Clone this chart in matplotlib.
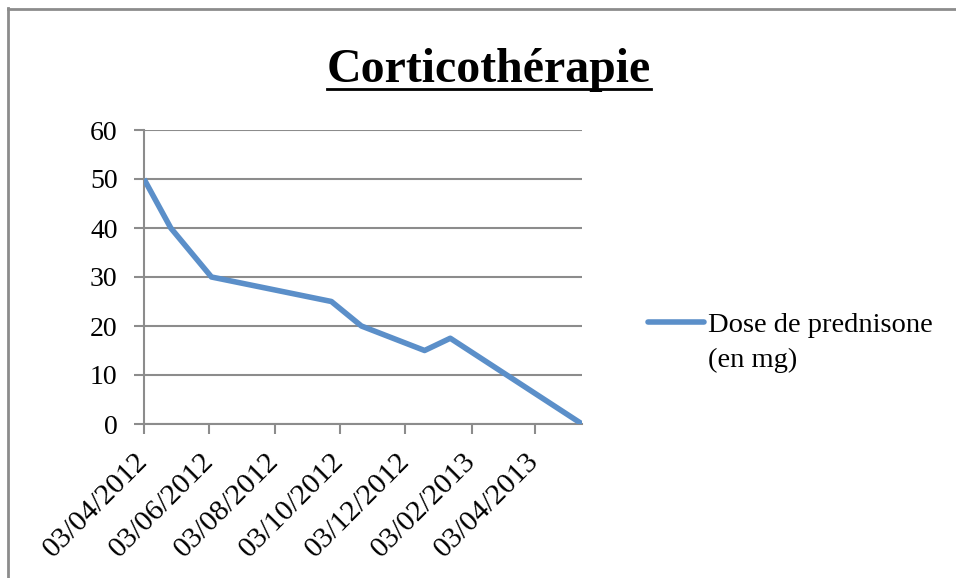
import matplotlib
matplotlib.use("Agg")
import matplotlib.pyplot as plt
from matplotlib.lines import Line2D
import datetime as dt

dates = ["03/04/2012", "28/04/2012", "05/06/2012", "25/09/2012", "23/10/2012",
         "21/12/2012", "14/01/2013", "17/05/2013"]
doses = [50, 40, 30, 25, 20, 15, 17.5, 0]
tick_dates = ["03/04/2012", "03/06/2012", "03/08/2012", "03/10/2012",
              "03/12/2012", "03/02/2013", "03/04/2013"]
yticks = [0, 10, 20, 30, 40, 50, 60]
series_name = ["Dose de prednisone", "(en mg)"]
title = "Corticothérapie"

def p(s):
    return dt.datetime.strptime(s, "%d/%m/%Y")

xd = [p(s) for s in dates]
xt = [p(s) for s in tick_dates]

serif = ["Liberation Serif", "DejaVu Serif"]
grey = "#8c8c8c"
blue = "#5b8fc9"
W, H = 956, 578

fig = plt.figure(figsize=(W/100, H/100), dpi=100)
ax = fig.add_axes([144/W, 1 - 424/H, (582-144)/W, (424-130)/H])

ax.plot(xd, doses, color=blue, lw=4, solid_joinstyle="round", solid_capstyle="butt",
        label=series_name[0], zorder=3)
ax.set_xlim(xd[0], xd[-1])
ax.set_ylim(0, 60)
ax.set_yticks(yticks)
ax.set_xticks(xt)
ax.set_xticklabels(tick_dates, rotation=45, ha="right", va="center",
                   rotation_mode="anchor", fontfamily=serif, fontsize=21.5)
ax.set_yticklabels([str(v) for v in yticks], fontfamily=serif, fontsize=20)
ax.grid(axis="y", color=grey, lw=1.5)
ax.set_axisbelow(True)
for s in ["top", "right"]:
    ax.spines[s].set_visible(False)
for s in ["left", "bottom"]:
    ax.spines[s].set_color(grey)
    ax.spines[s].set_linewidth(1.5)
ax.tick_params(axis="both", direction="out", length=7, width=1.5, color=grey,
               labelcolor="black")
ax.tick_params(axis="y", pad=12)
ax.tick_params(axis="x", pad=17)

t = fig.text(489/W, 1 - 82/H, title, ha="center", va="baseline",
             fontfamily=serif, fontsize=34.5, fontweight="bold")
fig.canvas.draw()
bb = t.get_window_extent()
fig.add_artist(Line2D([bb.x0/W, bb.x1/W], [1 - 89/H, 1 - 89/H],
                      color="black", lw=2))

leg = ax.legend(loc="center left", bbox_to_anchor=(648/W, 1 - 325/H),
                bbox_transform=fig.transFigure, frameon=False,
                prop={"family": serif, "size": 20.5}, handlelength=1.95,
                handletextpad=0.15, borderpad=0, borderaxespad=0)
leg.get_lines()[0].set_solid_capstyle("round")
fig.canvas.draw()
lt = leg.get_texts()[0]
lb = lt.get_window_extent()
fig.text(lb.x0/W, 1 - 360/H, series_name[1], ha="left", va="center",
         fontfamily=serif, fontsize=20.5)

# outer frame
fig.add_artist(Line2D([7.5/W, 7.5/W], [0, 1 - 8/H], color=grey, lw=2))
fig.add_artist(Line2D([7.5/W, 1], [1 - 8.5/H, 1 - 8.5/H], color=grey, lw=2))

fig.savefig("out.png", dpi=100)
